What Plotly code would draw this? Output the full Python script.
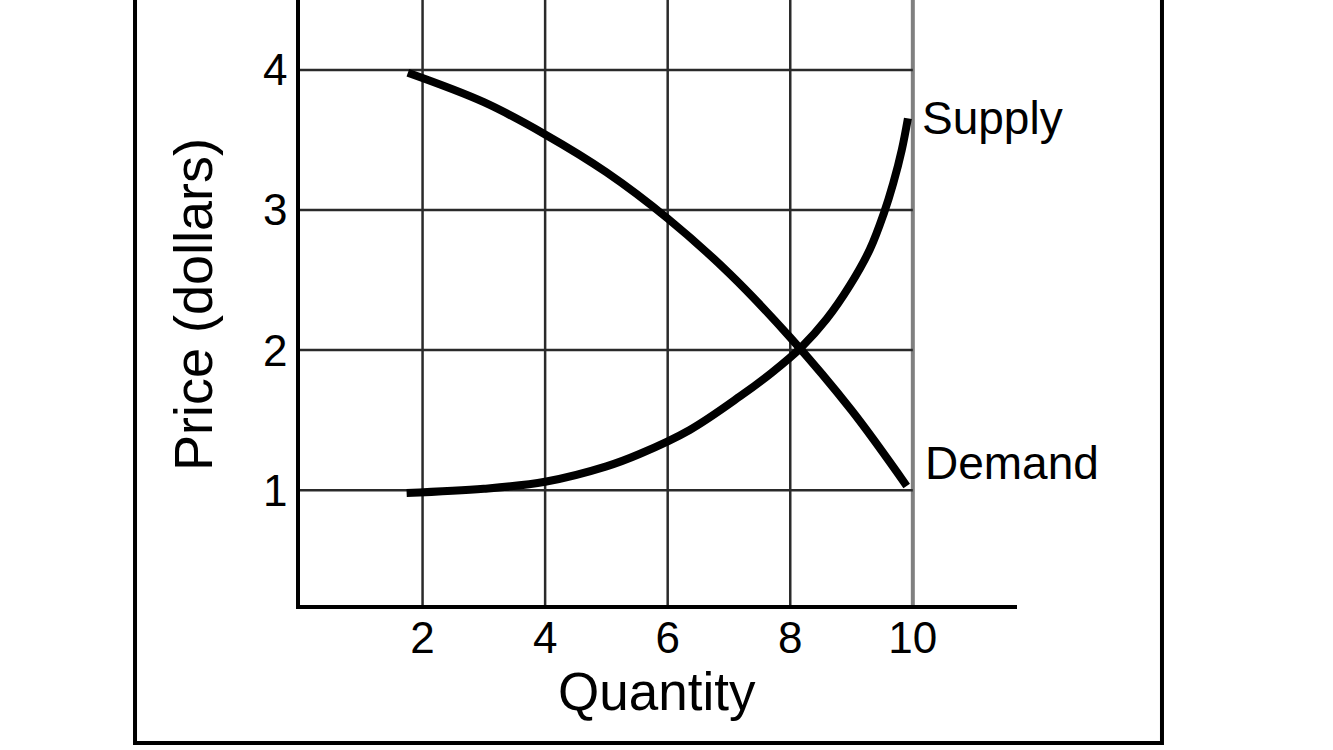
import plotly.graph_objects as go

# Data
supply_q = [1.74, 3.0, 4.0, 5.0, 5.55, 6.36, 7.18, 7.7, 8.18, 8.59, 8.97, 9.3, 9.53, 9.68, 9.82, 9.92]
supply_p = [0.98, 1.01, 1.06, 1.17, 1.26, 1.43, 1.67, 1.84, 2.02, 2.22, 2.46, 2.72, 2.98, 3.19, 3.43, 3.655]
demand_q = [1.76, 3.0, 4.0, 5.0, 6.0, 7.0, 8.0, 9.0, 9.9]
demand_p = [3.98, 3.77, 3.54, 3.27, 2.94, 2.55, 2.09, 1.57, 1.03]

x_ticks = [2, 4, 6, 8, 10]
y_ticks = [1, 2, 3, 4]
x_range = [0, 11.7]
y_range = [0.18, 4.5]

FONT = "Arial, Liberation Sans, Helvetica, sans-serif"

fig = go.Figure()

shapes = []
# vertical grid lines
for xv in x_ticks:
    last = xv == x_ticks[-1]
    shapes.append(dict(type="line", xref="x", yref="y domain", x0=xv, x1=xv, y0=0, y1=1,
                       line=dict(color="#808080" if last else "#2a2a2a", width=4 if last else 2.5),
                       layer="below"))
# horizontal grid lines (stop at last x tick)
for yv in y_ticks:
    shapes.append(dict(type="line", xref="x", yref="y", x0=x_range[0], x1=x_ticks[-1], y0=yv, y1=yv,
                       line=dict(color="#2a2a2a", width=2.5), layer="below"))
# outer frame
shapes.append(dict(type="rect", xref="paper", yref="paper", x0=-0.2301, x1=1.2022, y0=-0.228, y1=1.05,
                   line=dict(color="black", width=4), fillcolor="rgba(0,0,0,0)"))

fig.add_trace(go.Scatter(x=demand_q, y=demand_p, mode="lines", line=dict(color="black", width=8, shape="spline"),
                         showlegend=False, hoverinfo="skip"))
fig.add_trace(go.Scatter(x=supply_q, y=supply_p, mode="lines", line=dict(color="black", width=8, shape="spline"),
                         showlegend=False, hoverinfo="skip"))

annotations = [
    dict(text="Supply", x=supply_q[-1], y=supply_p[-1], xref="x", yref="y", xanchor="left", yanchor="middle",
         xshift=12, yshift=0, showarrow=False, font=dict(family=FONT, size=46, color="black")),
    dict(text="Demand", x=demand_q[-1], y=demand_p[-1], xref="x", yref="y", xanchor="left", yanchor="middle",
         xshift=16, yshift=23, showarrow=False, font=dict(family=FONT, size=46, color="black")),
    dict(text="Quantity", x=0.498, y=-0.1438, xref="paper", yref="paper", xanchor="center", yanchor="middle",
         showarrow=False, font=dict(family=FONT, size=53, color="black")),
    dict(text="Price (dollars)", x=-0.149, y=0.496, xref="paper", yref="paper", xanchor="center", yanchor="middle",
         textangle=-90, showarrow=False, font=dict(family=FONT, size=54, color="black")),
]

fig.update_layout(
    width=1333, height=750,
    margin=dict(l=300, r=316, t=0, b=145),
    paper_bgcolor="white", plot_bgcolor="white",
    shapes=shapes, annotations=annotations,
    xaxis=dict(range=x_range, tickvals=x_ticks, ticktext=[str(v) for v in x_ticks], showgrid=False,
               zeroline=False, showline=True, linecolor="black", linewidth=3.5, ticks="",
               ticklabelstandoff=-9, tickfont=dict(family=FONT, size=44, color="black")),
    yaxis=dict(range=y_range, tickvals=y_ticks, ticktext=[str(v) for v in y_ticks], showgrid=False,
               zeroline=False, showline=True, linecolor="black", linewidth=3.5, ticks="",
               ticklabelstandoff=0, tickfont=dict(family=FONT, size=44, color="black")),
)

fig.write_html("out.html", config={"displayModeBar": False},
               post_script="document.body.style.margin='0px';document.body.style.overflow='hidden';")
